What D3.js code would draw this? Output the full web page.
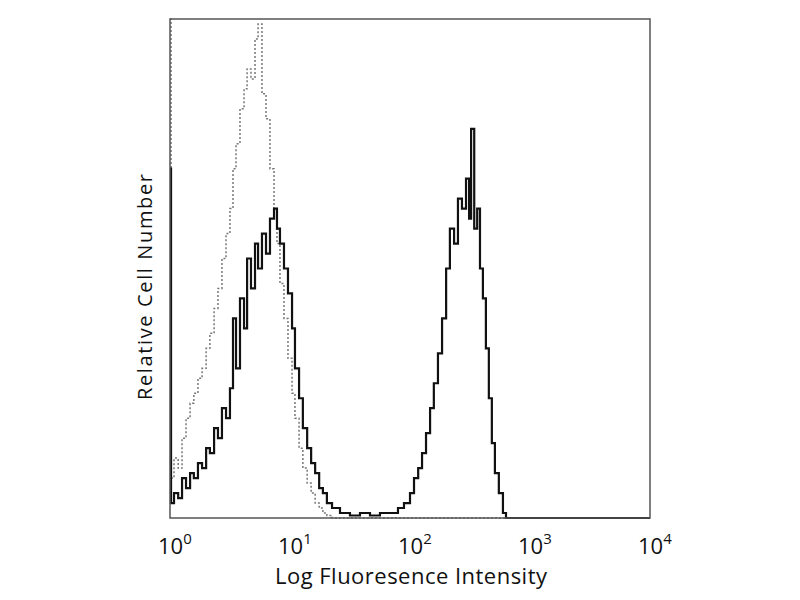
<!DOCTYPE html>
<html lang="en">
<head>
    <meta charset="UTF-8">
    <title>Log Fluoresence Intensity</title>
    <script src="https://d3js.org/d3.v7.min.js"></script>
    <style>
        body { margin: 0; background: #fff; }
        text { font-family: "Open Sans", sans-serif; fill: #111; }
    </style>
</head>
<body>
    <svg id="chart"></svg>
    <script>
        // Histogram bins: fluorescence intensity and relative count (0-100)
        const stainedX = [1.00, 1.02, 1.08, 1.17, 1.26, 1.36, 1.47, 1.58, 1.71, 1.85, 2.0, 2.15, 2.33, 2.51, 2.71, 2.93,
            3.16, 3.35, 3.55, 3.83, 4.14, 4.39, 4.73, 5.11, 5.42, 5.84, 6.31, 6.81, 7.36, 7.79, 8.25, 8.91, 9.62,
            10.4, 11.0, 11.9, 12.8, 13.9, 15.0, 16.2, 17.5, 18.8, 20.3, 22.4, 26.1, 31.6, 38.3, 46.4, 56.2, 68.1,
            79.4, 89.1, 100, 108, 117, 126, 136, 147, 158, 171, 185, 200, 215, 233, 251, 271, 293, 311, 323, 343,
            363, 383, 405, 429, 454, 481, 510, 550, 595, 631, 10000];
        const stainedY = [70, 3, 5, 4, 8, 6, 9, 8, 11, 10, 14, 13, 18, 16, 22, 20,
            26, 40, 30, 44, 38, 52, 46, 55, 50, 57, 53, 60, 62, 58, 55, 50, 45,
            38, 30, 24, 18, 14, 11, 9, 6, 5, 3, 2, 1, 0.5, 1, 0.5, 1, 1,
            2, 3, 5, 8, 10, 13, 17, 22, 27, 33, 40, 50, 58, 55, 64, 62, 68, 60, 78, 58,
            62, 50, 44, 34, 24, 15, 9, 5, 1, 0, 0];

        const isotypeX = [1.00, 1.02, 1.08, 1.17, 1.26, 1.36, 1.47, 1.58, 1.71, 1.85, 2.0, 2.15, 2.33, 2.51, 2.71, 2.93,
            3.16, 3.35, 3.55, 3.83, 4.14, 4.39, 4.73, 5.11, 5.42, 5.84, 6.31, 6.81, 7.36, 7.79, 8.25, 8.91, 9.62,
            10.4, 11.0, 11.9, 12.8, 13.9, 15.0, 16.2, 17.5, 18.8, 20.3, 22.4, 10000];
        const isotypeY = [100, 8, 12, 10, 16, 20, 23, 25, 28, 30, 34, 37, 42, 46, 52, 57,
            62, 70, 75, 82, 86, 90, 88, 96, 99, 85, 80, 70, 62, 55, 47, 40, 32,
            25, 20, 14, 10, 7, 5, 3, 2, 1, 0.5, 0, 0];

        const tickValues = [1, 10, 100, 1000, 10000];
        const tickExponents = ["0", "1", "2", "3", "4"];

        const width = 800, height = 600;
        const margin = { left: 170, right: 150, top: 19, bottom: 82 };

        const svg = d3.select("#chart")
            .attr("width", width)
            .attr("height", height);

        const x = d3.scaleLog()
            .domain([1, 10000])
            .range([margin.left, width - margin.right]);

        const y = d3.scaleLinear()
            .domain([0, 100])
            .range([height - margin.bottom, margin.top]);

        const line = d3.line()
            .x(d => x(d[0]))
            .y(d => y(d[1]))
            .curve(d3.curveStepAfter);

        // isotype control (dotted)
        svg.append("path")
            .datum(d3.zip(isotypeX, isotypeY))
            .attr("d", line)
            .attr("fill", "none")
            .attr("stroke", "#777")
            .attr("stroke-width", 1.5)
            .attr("stroke-dasharray", "2,2");

        // stained sample (solid)
        svg.append("path")
            .datum(d3.zip(stainedX, stainedY))
            .attr("d", line)
            .attr("fill", "none")
            .attr("stroke", "#111")
            .attr("stroke-width", 2.2);

        // frame
        svg.append("rect")
            .attr("x", x(1))
            .attr("y", y(100))
            .attr("width", x(10000) - x(1))
            .attr("height", y(0) - y(100))
            .attr("fill", "none")
            .attr("stroke", "#555")
            .attr("stroke-width", 1.5);

        // tick labels 10^n
        const labels = svg.selectAll(".tick-label")
            .data(tickValues)
            .enter()
            .append("text")
            .attr("class", "tick-label")
            .attr("x", d => x(d) - 12)
            .attr("y", 554)
            .attr("font-size", 22);
        labels.append("tspan").text("10");
        labels.append("tspan")
            .attr("dy", -10)
            .attr("font-size", 15)
            .text((d, i) => tickExponents[i]);

        svg.append("text")
            .attr("x", 411)
            .attr("y", 584)
            .attr("text-anchor", "middle")
            .attr("font-size", 22)
            .attr("textLength", 272)
            .text("Log Fluoresence Intensity");

        svg.append("text")
            .attr("transform", "translate(152,287) rotate(-90)")
            .attr("text-anchor", "middle")
            .attr("font-size", 20)
            .attr("textLength", 226)
            .text("Relative Cell Number");
    </script>
</body>
</html>
